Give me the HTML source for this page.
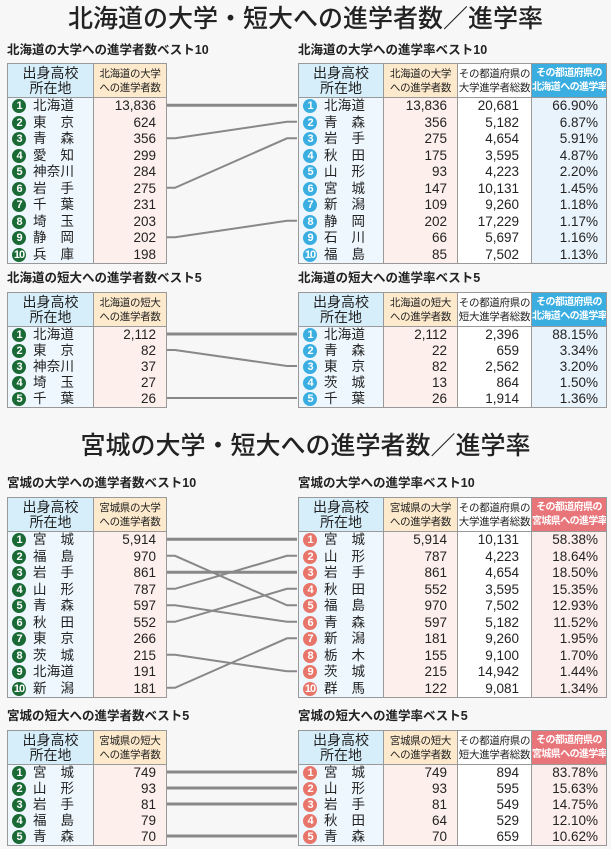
<!DOCTYPE html>
<html><head><meta charset="utf-8">
<style>
*{margin:0;padding:0;box-sizing:border-box}
body{width:611px;height:849px;background:#f7f7f7;position:relative;overflow:hidden;font-family:"Liberation Sans","Noto Sans CJK JP",sans-serif;color:#222}
.mt{position:absolute;left:0;width:611px;text-align:center;font-size:25px;line-height:30px;font-weight:500}
.st{position:absolute;font-size:12.5px;font-weight:bold;line-height:16px}
table{position:absolute;display:block;border:1px solid #999;background:#fff}
tbody{display:block}
tr{display:flex}
td,th{display:block;flex:none;font-size:13.5px;line-height:16px;padding:0;white-space:nowrap;overflow:hidden}
td+td,th+th{border-left:1px solid #999}
th{height:34px;font-weight:normal;border-bottom:1px solid #999;font-size:10.5px;line-height:14px;text-align:center;padding-top:3px;letter-spacing:-0.3px}
th.loc{background:#d6eefa;font-size:14px;line-height:15px;padding-top:2px;letter-spacing:0}
th.cnt{background:#fde9cc}
th.tot{background:#fff}
th.rb,th.rr{color:#fff;font-weight:bold;font-size:10px;letter-spacing:-0.6px}
th.rb{background:#3aaee0}
th.rr{background:#e8757a}
.loc{width:85px}.cnt{width:73px}.tot{width:74px}.rb,.rr,.rtb,.rtr{width:75px}
table.R .loc{width:84px}
table.R .cnt{width:74px}
td.loc{background:#eef7fd;padding-left:4px}
td.cnt{background:#fdf0ec;text-align:right;padding-right:10px}
td.tot{background:#fff;text-align:right;padding-right:12px}
td.rtb{background:#e9f3fb;text-align:right;padding-right:8px}
td.rtr{background:#fdeeee;text-align:right;padding-right:8px}
.b{display:inline-block;width:14px;height:14px;border-radius:7px;color:#fff;font-size:11px;line-height:14px;text-align:center;font-weight:bold;margin-right:7px;vertical-align:top;margin-top:1px;letter-spacing:-1px}
.g{background:#1a6a35}.bl{background:#3aaee0}.r{background:#e8756a}
.n{display:inline-block;width:41px;text-align:justify;text-align-last:justify;vertical-align:top}
tr.r16 td{height:16.5px}
tr.r15 td{height:16px}
svg{position:absolute;left:0;top:0}
</style></head><body>

<div class="mt" style="top:4px">北海道の大学・短大への進学者数／進学率</div>
<div class="st" style="left:7px;top:42px">北海道の大学への進学者数ベスト10</div>
<div class="st" style="left:298px;top:42px">北海道の大学への進学率ベスト10</div>

<table style="left:7px;top:63px">
<tr><th class="loc">出身高校<br>所在地</th><th class="cnt">北海道の大学<br>への進学者数</th></tr>
<tr class="r16"><td class="loc"><span class="b g">1</span><span class="n">北海道</span></td><td class="cnt">13,836</td></tr>
<tr class="r16"><td class="loc"><span class="b g">2</span><span class="n">東京</span></td><td class="cnt">624</td></tr>
<tr class="r16"><td class="loc"><span class="b g">3</span><span class="n">青森</span></td><td class="cnt">356</td></tr>
<tr class="r16"><td class="loc"><span class="b g">4</span><span class="n">愛知</span></td><td class="cnt">299</td></tr>
<tr class="r16"><td class="loc"><span class="b g">5</span><span class="n">神奈川</span></td><td class="cnt">284</td></tr>
<tr class="r16"><td class="loc"><span class="b g">6</span><span class="n">岩手</span></td><td class="cnt">275</td></tr>
<tr class="r16"><td class="loc"><span class="b g">7</span><span class="n">千葉</span></td><td class="cnt">231</td></tr>
<tr class="r16"><td class="loc"><span class="b g">8</span><span class="n">埼玉</span></td><td class="cnt">203</td></tr>
<tr class="r16"><td class="loc"><span class="b g">9</span><span class="n">静岡</span></td><td class="cnt">202</td></tr>
<tr class="r16"><td class="loc"><span class="b g">10</span><span class="n">兵庫</span></td><td class="cnt">198</td></tr>
</table>

<table class="R" style="left:298px;top:63px">
<tr><th class="loc">出身高校<br>所在地</th><th class="cnt">北海道の大学<br>への進学者数</th><th class="tot">その都道府県の<br>大学進学者総数</th><th class="rb">その都道府県の<br>北海道への進学率</th></tr>
<tr class="r16"><td class="loc"><span class="b bl">1</span><span class="n">北海道</span></td><td class="cnt">13,836</td><td class="tot">20,681</td><td class="rtb">66.90%</td></tr>
<tr class="r16"><td class="loc"><span class="b bl">2</span><span class="n">青森</span></td><td class="cnt">356</td><td class="tot">5,182</td><td class="rtb">6.87%</td></tr>
<tr class="r16"><td class="loc"><span class="b bl">3</span><span class="n">岩手</span></td><td class="cnt">275</td><td class="tot">4,654</td><td class="rtb">5.91%</td></tr>
<tr class="r16"><td class="loc"><span class="b bl">4</span><span class="n">秋田</span></td><td class="cnt">175</td><td class="tot">3,595</td><td class="rtb">4.87%</td></tr>
<tr class="r16"><td class="loc"><span class="b bl">5</span><span class="n">山形</span></td><td class="cnt">93</td><td class="tot">4,223</td><td class="rtb">2.20%</td></tr>
<tr class="r16"><td class="loc"><span class="b bl">6</span><span class="n">宮城</span></td><td class="cnt">147</td><td class="tot">10,131</td><td class="rtb">1.45%</td></tr>
<tr class="r16"><td class="loc"><span class="b bl">7</span><span class="n">新潟</span></td><td class="cnt">109</td><td class="tot">9,260</td><td class="rtb">1.18%</td></tr>
<tr class="r16"><td class="loc"><span class="b bl">8</span><span class="n">静岡</span></td><td class="cnt">202</td><td class="tot">17,229</td><td class="rtb">1.17%</td></tr>
<tr class="r16"><td class="loc"><span class="b bl">9</span><span class="n">石川</span></td><td class="cnt">66</td><td class="tot">5,697</td><td class="rtb">1.16%</td></tr>
<tr class="r16"><td class="loc"><span class="b bl">10</span><span class="n">福島</span></td><td class="cnt">85</td><td class="tot">7,502</td><td class="rtb">1.13%</td></tr>
</table>

<div class="st" style="left:7px;top:270px">北海道の短大への進学者数ベスト5</div>
<div class="st" style="left:298px;top:270px">北海道の短大への進学率ベスト5</div>

<table style="left:7px;top:292px">
<tr><th class="loc">出身高校<br>所在地</th><th class="cnt">北海道の短大<br>への進学者数</th></tr>
<tr class="r15"><td class="loc"><span class="b g">1</span><span class="n">北海道</span></td><td class="cnt">2,112</td></tr>
<tr class="r15"><td class="loc"><span class="b g">2</span><span class="n">東京</span></td><td class="cnt">82</td></tr>
<tr class="r15"><td class="loc"><span class="b g">3</span><span class="n">神奈川</span></td><td class="cnt">37</td></tr>
<tr class="r15"><td class="loc"><span class="b g">4</span><span class="n">埼玉</span></td><td class="cnt">27</td></tr>
<tr class="r15"><td class="loc"><span class="b g">5</span><span class="n">千葉</span></td><td class="cnt">26</td></tr>
</table>

<table class="R" style="left:298px;top:292px">
<tr><th class="loc">出身高校<br>所在地</th><th class="cnt">北海道の短大<br>への進学者数</th><th class="tot">その都道府県の<br>短大進学者総数</th><th class="rb">その都道府県の<br>北海道への進学率</th></tr>
<tr class="r15"><td class="loc"><span class="b bl">1</span><span class="n">北海道</span></td><td class="cnt">2,112</td><td class="tot">2,396</td><td class="rtb">88.15%</td></tr>
<tr class="r15"><td class="loc"><span class="b bl">2</span><span class="n">青森</span></td><td class="cnt">22</td><td class="tot">659</td><td class="rtb">3.34%</td></tr>
<tr class="r15"><td class="loc"><span class="b bl">3</span><span class="n">東京</span></td><td class="cnt">82</td><td class="tot">2,562</td><td class="rtb">3.20%</td></tr>
<tr class="r15"><td class="loc"><span class="b bl">4</span><span class="n">茨城</span></td><td class="cnt">13</td><td class="tot">864</td><td class="rtb">1.50%</td></tr>
<tr class="r15"><td class="loc"><span class="b bl">5</span><span class="n">千葉</span></td><td class="cnt">26</td><td class="tot">1,914</td><td class="rtb">1.36%</td></tr>
</table>

<div class="mt" style="top:431px">宮城の大学・短大への進学者数／進学率</div>
<div class="st" style="left:7px;top:475px">宮城の大学への進学者数ベスト10</div>
<div class="st" style="left:298px;top:475px">宮城の大学への進学率ベスト10</div>

<table style="left:7px;top:497px">
<tr><th class="loc">出身高校<br>所在地</th><th class="cnt">宮城県の大学<br>への進学者数</th></tr>
<tr class="r16"><td class="loc"><span class="b g">1</span><span class="n">宮城</span></td><td class="cnt">5,914</td></tr>
<tr class="r16"><td class="loc"><span class="b g">2</span><span class="n">福島</span></td><td class="cnt">970</td></tr>
<tr class="r16"><td class="loc"><span class="b g">3</span><span class="n">岩手</span></td><td class="cnt">861</td></tr>
<tr class="r16"><td class="loc"><span class="b g">4</span><span class="n">山形</span></td><td class="cnt">787</td></tr>
<tr class="r16"><td class="loc"><span class="b g">5</span><span class="n">青森</span></td><td class="cnt">597</td></tr>
<tr class="r16"><td class="loc"><span class="b g">6</span><span class="n">秋田</span></td><td class="cnt">552</td></tr>
<tr class="r16"><td class="loc"><span class="b g">7</span><span class="n">東京</span></td><td class="cnt">266</td></tr>
<tr class="r16"><td class="loc"><span class="b g">8</span><span class="n">茨城</span></td><td class="cnt">215</td></tr>
<tr class="r16"><td class="loc"><span class="b g">9</span><span class="n">北海道</span></td><td class="cnt">191</td></tr>
<tr class="r16"><td class="loc"><span class="b g">10</span><span class="n">新潟</span></td><td class="cnt">181</td></tr>
</table>

<table class="R" style="left:298px;top:497px">
<tr><th class="loc">出身高校<br>所在地</th><th class="cnt">宮城県の大学<br>への進学者数</th><th class="tot">その都道府県の<br>大学進学者総数</th><th class="rr">その都道府県の<br>宮城県への進学率</th></tr>
<tr class="r16"><td class="loc"><span class="b r">1</span><span class="n">宮城</span></td><td class="cnt">5,914</td><td class="tot">10,131</td><td class="rtr">58.38%</td></tr>
<tr class="r16"><td class="loc"><span class="b r">2</span><span class="n">山形</span></td><td class="cnt">787</td><td class="tot">4,223</td><td class="rtr">18.64%</td></tr>
<tr class="r16"><td class="loc"><span class="b r">3</span><span class="n">岩手</span></td><td class="cnt">861</td><td class="tot">4,654</td><td class="rtr">18.50%</td></tr>
<tr class="r16"><td class="loc"><span class="b r">4</span><span class="n">秋田</span></td><td class="cnt">552</td><td class="tot">3,595</td><td class="rtr">15.35%</td></tr>
<tr class="r16"><td class="loc"><span class="b r">5</span><span class="n">福島</span></td><td class="cnt">970</td><td class="tot">7,502</td><td class="rtr">12.93%</td></tr>
<tr class="r16"><td class="loc"><span class="b r">6</span><span class="n">青森</span></td><td class="cnt">597</td><td class="tot">5,182</td><td class="rtr">11.52%</td></tr>
<tr class="r16"><td class="loc"><span class="b r">7</span><span class="n">新潟</span></td><td class="cnt">181</td><td class="tot">9,260</td><td class="rtr">1.95%</td></tr>
<tr class="r16"><td class="loc"><span class="b r">8</span><span class="n">栃木</span></td><td class="cnt">155</td><td class="tot">9,100</td><td class="rtr">1.70%</td></tr>
<tr class="r16"><td class="loc"><span class="b r">9</span><span class="n">茨城</span></td><td class="cnt">215</td><td class="tot">14,942</td><td class="rtr">1.44%</td></tr>
<tr class="r16"><td class="loc"><span class="b r">10</span><span class="n">群馬</span></td><td class="cnt">122</td><td class="tot">9,081</td><td class="rtr">1.34%</td></tr>
</table>

<div class="st" style="left:7px;top:708px">宮城の短大への進学者数ベスト5</div>
<div class="st" style="left:298px;top:708px">宮城の短大への進学率ベスト5</div>

<table style="left:7px;top:730px">
<tr><th class="loc">出身高校<br>所在地</th><th class="cnt">宮城県の短大<br>への進学者数</th></tr>
<tr class="r15"><td class="loc"><span class="b g">1</span><span class="n">宮城</span></td><td class="cnt">749</td></tr>
<tr class="r15"><td class="loc"><span class="b g">2</span><span class="n">山形</span></td><td class="cnt">93</td></tr>
<tr class="r15"><td class="loc"><span class="b g">3</span><span class="n">岩手</span></td><td class="cnt">81</td></tr>
<tr class="r15"><td class="loc"><span class="b g">4</span><span class="n">福島</span></td><td class="cnt">79</td></tr>
<tr class="r15"><td class="loc"><span class="b g">5</span><span class="n">青森</span></td><td class="cnt">70</td></tr>
</table>

<table class="R" style="left:298px;top:730px">
<tr><th class="loc">出身高校<br>所在地</th><th class="cnt">宮城県の短大<br>への進学者数</th><th class="tot">その都道府県の<br>短大進学者総数</th><th class="rr">その都道府県の<br>宮城県への進学率</th></tr>
<tr class="r15"><td class="loc"><span class="b r">1</span><span class="n">宮城</span></td><td class="cnt">749</td><td class="tot">894</td><td class="rtr">83.78%</td></tr>
<tr class="r15"><td class="loc"><span class="b r">2</span><span class="n">山形</span></td><td class="cnt">93</td><td class="tot">595</td><td class="rtr">15.63%</td></tr>
<tr class="r15"><td class="loc"><span class="b r">3</span><span class="n">岩手</span></td><td class="cnt">81</td><td class="tot">549</td><td class="rtr">14.75%</td></tr>
<tr class="r15"><td class="loc"><span class="b r">4</span><span class="n">秋田</span></td><td class="cnt">64</td><td class="tot">529</td><td class="rtr">12.10%</td></tr>
<tr class="r15"><td class="loc"><span class="b r">5</span><span class="n">青森</span></td><td class="cnt">70</td><td class="tot">659</td><td class="rtr">10.62%</td></tr>
</table>

<svg width="611" height="849" fill="none" stroke="#888" stroke-width="2">
<g stroke-width="3">
<path d="M167 105.3H297"/>
<path d="M167 334H297"/>
<path d="M167 539.3H297"/>
<path d="M167 572.3H297"/>
<path d="M167 772H297"/>
<path d="M167 788H297"/>
<path d="M167 804H297"/>
<path d="M167 836H297"/>
</g>
<path d="M167 138.3H175L287 121.8H297"/>
<path d="M167 187.8H175L287 138.3H297"/>
<path d="M167 237.3H175L287 220.8H297"/>
<path d="M167 350H175L287 366H297"/>
<path d="M167 398H297"/>
<path d="M167 555.8H175L287 605.3H297"/>
<path d="M167 588.8H175L287 555.8H297"/>
<path d="M167 605.3H175L287 621.8H297"/>
<path d="M167 621.8H175L287 588.8H297"/>
<path d="M167 654.8H175L287 671.3H297"/>
<path d="M167 687.8H175L287 638.3H297"/>
</svg>
</body></html>
